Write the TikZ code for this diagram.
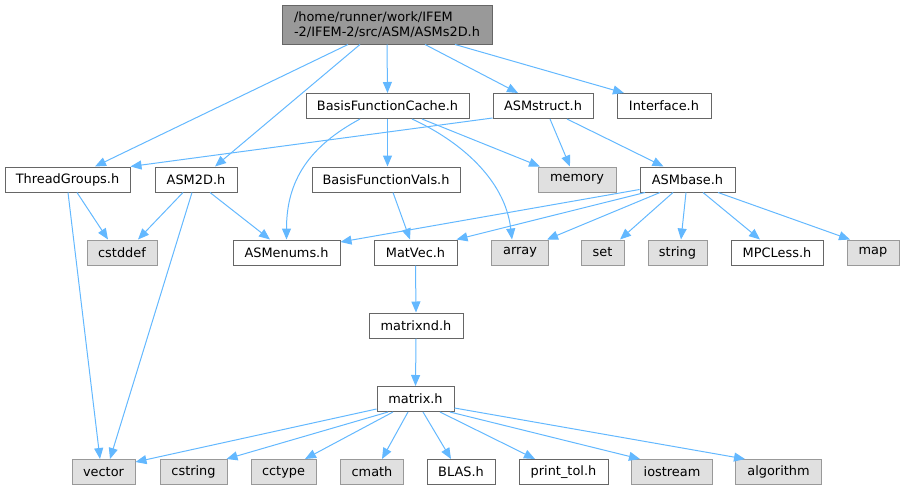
\documentclass[tikz,border=0pt]{standalone}
\usepackage{fontspec}
\setmainfont{DejaVu Sans}
\usetikzlibrary{arrows.meta}
\definecolor{edgec}{HTML}{63B8FF}
\definecolor{boxline}{HTML}{666666}
\definecolor{extline}{HTML}{999999}
\definecolor{extfill}{HTML}{E0E0E0}
\definecolor{rootfill}{HTML}{999999}
\begin{document}
\begin{tikzpicture}[x=1pt,y=-1pt,font=\fontsize{12.9}{15}\selectfont,
  box/.style={draw=boxline,fill=white,line width=1pt,minimum height=25pt,inner sep=0pt,anchor=center},
  ext/.style={box,draw=extline,fill=extfill},
  edge/.style={draw=edgec,line width=1pt,-{Triangle[length=11pt,width=9pt]}}]
\useasboundingbox (0,0) rectangle (904,491);
% nodes
\node[box,fill=rootfill,minimum width=210pt,minimum height=39pt,align=left] (root) at (387,24.5) {/home/runner/work/IFEM\\-2/IFEM-2/src/ASM/ASMs2D.h};
\node[box,minimum width=163pt] (bfc) at (387.5,106) {BasisFunctionCache.h};
\node[box,minimum width=100pt] (asms) at (543,106) {ASMstruct.h};
\node[box,minimum width=94pt] (iface) at (664,106) {Interface.h};
\node[box,minimum width=125pt] (tg) at (67.5,179.5) {ThreadGroups.h};
\node[box,minimum width=82pt] (asm2d) at (196,179.5) {ASM2D.h};
\node[box,minimum width=148pt] (bfv) at (386,179.5) {BasisFunctionVals.h};
\node[ext,minimum width=78pt] (memory) at (577,179.5) {memory};
\node[box,minimum width=95pt] (asmbase) at (687.5,179.5) {ASMbase.h};
\node[ext,minimum width=70pt] (cstddef) at (122,252.5) {cstddef};
\node[box,minimum width=107pt] (asmenums) at (286.5,252.5) {ASMenums.h};
\node[box,minimum width=83pt] (matvec) at (415.5,252.5) {MatVec.h};
\node[ext,minimum width=57pt] (array) at (520,252.5) {array};
\node[ext,minimum width=43pt] (set) at (602.5,252.5) {set};
\node[ext,minimum width=59pt] (string) at (677.5,252.5) {string};
\node[box,minimum width=92pt] (mpc) at (777,252.5) {MPCLess.h};
\node[ext,minimum width=52pt] (map) at (873,252.5) {map};
\node[box,minimum width=94pt] (matrixnd) at (416,325.5) {matrixnd.h};
\node[box,minimum width=77pt] (matrix) at (415.5,399) {matrix.h};
\node[ext,minimum width=63pt] (vector) at (103.5,472) {vector};
\node[ext,minimum width=67pt] (cstring) at (193.5,472) {cstring};
\node[ext,minimum width=65pt] (cctype) at (283.5,472) {cctype};
\node[ext,minimum width=63pt] (cmath) at (372,472) {cmath};
\node[box,minimum width=68pt] (blas) at (461,472) {BLAS.h};
\node[box,minimum width=89pt] (printtol) at (563.5,472) {print\_tol.h};
\node[ext,minimum width=81pt] (iostream) at (672,472) {iostream};
\node[ext,minimum width=86pt] (algorithm) at (778.5,472) {algorithm};
% edges from root
\draw[edge] ([xshift=-39pt]root.south) -- ([xshift=27.5pt]tg.north);
\draw[edge] ([xshift=-27pt]root.south) -- ([xshift=19pt]asm2d.north);
\draw[edge] (root.south) -- (bfc.north);
\draw[edge] ([xshift=38pt]root.south) -- ([xshift=-25pt]asms.north);
\draw[edge] ([xshift=68pt]root.south) -- ([xshift=-40pt]iface.north);
% BasisFunctionCache
\draw[edge] ([xshift=-27.5pt]bfc.south) .. controls +(-50,27) and +(0,-60) .. (asmenums.north);
\draw[edge] (bfc.south) -- ([xshift=1.5pt]bfv.north);
\draw[edge] ([xshift=34.5pt]bfc.south) -- ([xshift=-37pt]memory.north);
\draw[edge] ([xshift=24.5pt]bfc.south) .. controls +(48,22) and +(-7,-60) .. ([xshift=-8pt]array.north);
% ASMstruct
\draw[edge] ([yshift=1pt]asms.south west) -- (tg.north east);
\draw[edge] ([xshift=7pt]asms.south) -- ([xshift=-7pt]memory.north);
\draw[edge] ([xshift=24pt]asms.south) -- ([xshift=-24pt]asmbase.north);
% ThreadGroups
\draw[edge] ([xshift=0.5pt]tg.south) -- ([xshift=-3.5pt]vector.north);
\draw[edge] ([xshift=9.5pt]tg.south) -- ([xshift=-14pt]cstddef.north);
% ASM2D
\draw[edge] ([xshift=-13pt]asm2d.south) -- ([xshift=16pt]cstddef.north);
\draw[edge] ([xshift=-4pt]asm2d.south) -- ([xshift=6.5pt]vector.north);
\draw[edge] ([xshift=14pt]asm2d.south) -- ([xshift=-16.5pt]asmenums.north);
% BasisFunctionVals
\draw[edge] ([xshift=7pt]bfv.south) -- ([xshift=-5.5pt]matvec.north);
% ASMbase
\draw[edge] ([yshift=-10pt]asmbase.west) -- ([yshift=10.5pt]asmenums.east);
\draw[edge] ([xshift=-42.5pt]asmbase.south) -- ([xshift=-1pt]matvec.north east);
\draw[edge] ([xshift=-27.5pt]asmbase.south) -- ([xshift=-2pt]array.north east);
\draw[edge] ([xshift=-14.5pt]asmbase.south) -- ([xshift=17.5pt]set.north);
\draw[edge] ([xshift=-1.5pt]asmbase.south) -- ([xshift=3.5pt]string.north);
\draw[edge] ([xshift=15.5pt]asmbase.south) -- ([xshift=-17pt]mpc.north);
\draw[edge] ([xshift=30.5pt]asmbase.south) -- ([xshift=-23pt]map.north);
% chain
\draw[edge] (matvec.south) -- (matrixnd.north);
\draw[edge] (matrixnd.south) -- (matrix.north);
% matrix
\draw[edge] ([yshift=-10pt]matrix.west) -- ([yshift=10pt]vector.east);
\draw[edge] ([xshift=-27.5pt]matrix.south) -- ([xshift=-1pt]cstring.north east);
\draw[edge] ([xshift=-22.5pt]matrix.south) -- ([xshift=21.5pt]cctype.north);
\draw[edge] ([xshift=-7.5pt]matrix.south) -- ([xshift=10pt]cmath.north);
\draw[edge] ([xshift=7.5pt]matrix.south) -- ([xshift=-10pt]blas.north);
\draw[edge] ([xshift=24.5pt]matrix.south) -- ([xshift=-28.5pt]printtol.north);
\draw[edge] ([xshift=34.5pt]matrix.south) -- ([xshift=-32pt]iostream.north);
\draw[edge] ([yshift=-9pt]matrix.east) -- ([xshift=-33.5pt]algorithm.north);
\end{tikzpicture}
\end{document}
